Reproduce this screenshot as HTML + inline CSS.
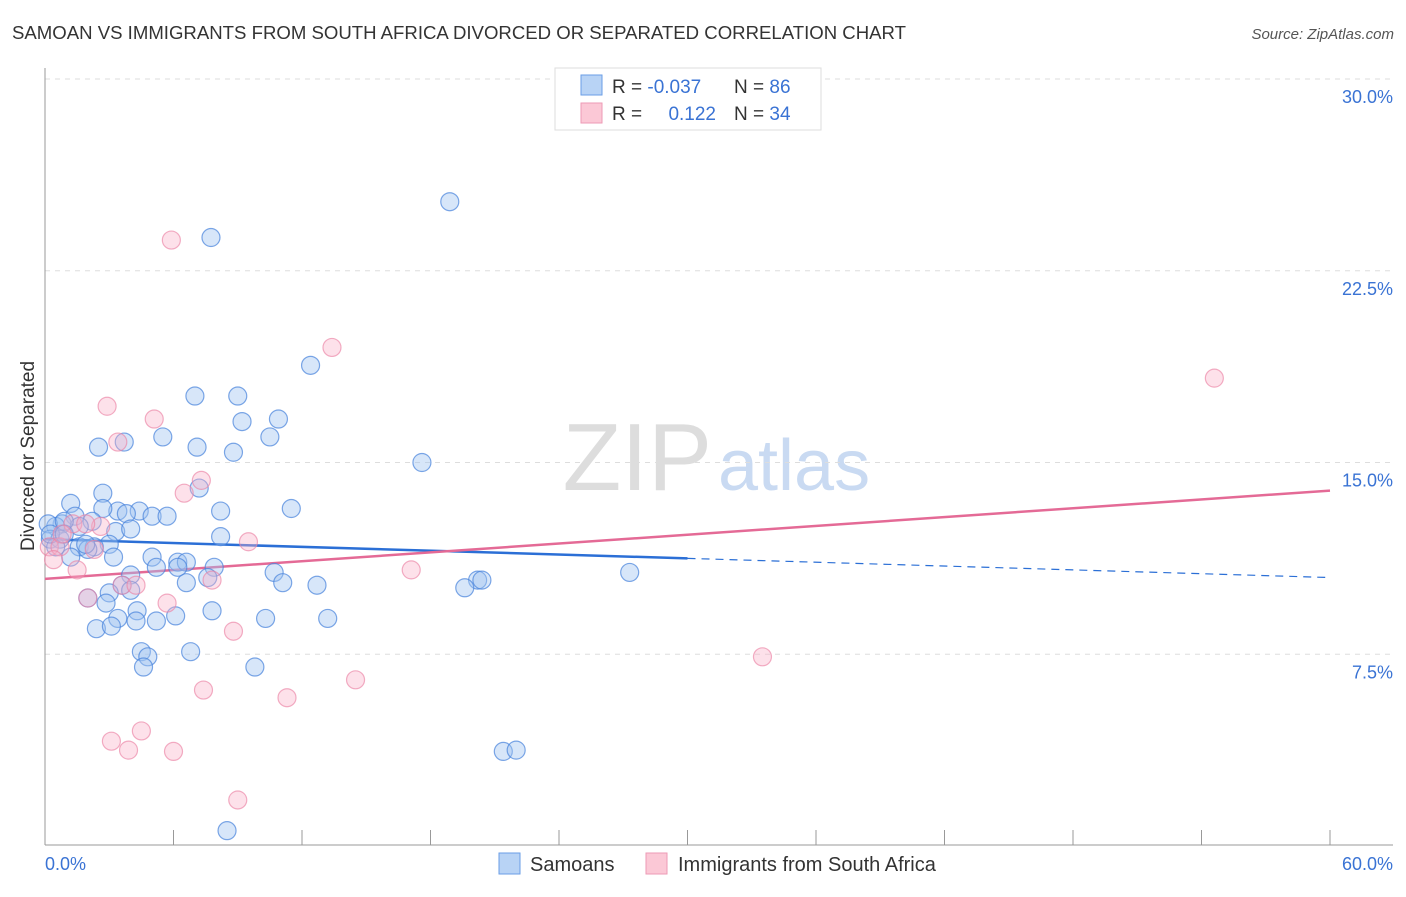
<!DOCTYPE html>
<html><head><meta charset="utf-8"><style>
body{margin:0;background:#fff;font-family:"Liberation Sans",sans-serif;}
svg text{font-family:"Liberation Sans",sans-serif;}
</style></head><body>
<svg width="1406" height="892" xmlns="http://www.w3.org/2000/svg">
<text x="12" y="39" font-size="18" fill="#333" textLength="894" lengthAdjust="spacingAndGlyphs">SAMOAN VS IMMIGRANTS FROM SOUTH AFRICA DIVORCED OR SEPARATED CORRELATION CHART</text>
<text x="1394" y="39" font-size="15" fill="#555" font-style="italic" text-anchor="end">Source: ZipAtlas.com</text>
<text x="712" y="490" font-size="96" fill="#ddd" font-family="Liberation Serif" text-anchor="end">ZIP</text>
<text x="718" y="490" font-size="72" fill="#c9daf2">atlas</text>
<g id="grid"></g>
<g id="axes"></g>
<text transform="translate(34,456) rotate(-90)" font-size="19" fill="#333" text-anchor="middle">Divorced or Separated</text>
<g id="trend"></g>
<g id="pts"></g>
<g>
<rect x="555" y="68" width="266" height="62" fill="#fff" stroke="#ddd"/>
<rect x="581" y="75" width="21" height="20" fill="#b8d3f5" stroke="#6a9ee6"/>
<rect x="581" y="103" width="21" height="20" fill="#fbc8d6" stroke="#ee9ab5"/>
<text x="612" y="93" font-size="19" fill="#333">R = <tspan fill="#3a73d4">-0.037</tspan></text>
<text x="734" y="93" font-size="19" fill="#333">N = <tspan fill="#3a73d4">86</tspan></text>
<text x="612" y="120" font-size="19" fill="#333">R = </text>
<text x="716" y="120" font-size="19" fill="#3a73d4" text-anchor="end">0.122</text>
<text x="734" y="120" font-size="19" fill="#333">N = <tspan fill="#3a73d4">34</tspan></text>
</g>
<g>
<rect x="499" y="853" width="21" height="21" fill="#b8d3f5" stroke="#6a9ee6"/>
<text x="530" y="871" font-size="20" fill="#333">Samoans</text>
<rect x="646" y="853" width="21" height="21" fill="#fbc8d6" stroke="#ee9ab5"/>
<text x="678" y="871" font-size="20" fill="#333">Immigrants from South Africa</text>
</g>
</svg>
<script>
const blueX=[18.9,7.75,12.4,7.0,9.0,9.2,10.9,3.7,2.5,5.5,7.1,8.8,10.5,17.6,7.2,2.7,1.2,8.2,11.5,3.4,4.4,2.7,1.4,3.8,5.0,5.7,2.2,0.8,0.5,0.15,1.6,3.3,4.0,8.2,0.25,0.7,3.0,0.5,1.6,2.3,3.2,5.0,6.2,6.6,1.2,2.0,5.2,6.2,7.9,4.0,10.7,7.6,11.1,12.7,6.6,3.6,4.0,20.2,20.4,19.6,27.3,3.0,2.0,2.85,4.3,7.8,6.1,3.4,4.25,5.2,10.3,13.2,2.4,3.1,4.5,4.8,6.8,4.6,9.8,21.4,22.0,8.5,0.9,0.25,0.9,1.9];
const blueY=[25.2,23.8,18.8,17.6,17.6,16.6,16.7,15.8,15.6,16.0,15.6,15.4,16.0,15.0,14.0,13.8,13.4,13.1,13.2,13.1,13.1,13.2,12.9,13.0,12.9,12.9,12.7,12.6,12.5,12.6,12.5,12.3,12.4,12.1,12.0,12.0,11.8,11.7,11.7,11.7,11.3,11.3,11.1,11.1,11.3,11.6,10.9,10.9,10.9,10.6,10.7,10.5,10.3,10.2,10.3,10.2,10.0,10.4,10.4,10.1,10.7,9.9,9.7,9.5,9.2,9.2,9.0,8.9,8.8,8.8,8.9,8.9,8.5,8.6,7.6,7.4,7.6,7.0,7.0,3.7,3.75,0.6,12.7,12.2,12.2,11.8];
const pinkX=[5.9,13.4,54.6,2.9,5.1,3.4,6.5,7.3,2.6,1.3,0.2,0.7,0.4,2.3,9.5,1.5,3.6,4.25,7.8,17.1,2.0,5.7,8.8,33.5,14.5,7.4,11.3,4.5,3.1,3.9,6.0,9.0,0.8,1.9];
const pinkY=[23.7,19.5,18.3,17.2,16.7,15.8,13.8,14.3,12.5,12.6,11.7,11.7,11.2,11.6,11.9,10.8,10.2,10.2,10.4,10.8,9.7,9.5,8.4,7.4,6.5,6.1,5.8,4.5,4.1,3.75,3.7,1.8,12.2,12.6];
const yTicks=[7.5,15.0,22.5,30.0];
const xTicks=[0,6,12,18,24,30,36,42,48,54,60];
const blueTrend=[12.0,10.5];
const blueSolidEnd=30;
const pinkTrend=[10.45,13.9];
const NS="http://www.w3.org/2000/svg";
const X=v=>45+v/60*1285, Y=v=>846-v/30*767;
function mk(t,a,p){const e=document.createElementNS(NS,t);for(const k in a)e.setAttribute(k,a[k]);p.appendChild(e);return e;}
const grid=document.getElementById('grid'),axes=document.getElementById('axes'),tr=document.getElementById('trend'),pts=document.getElementById('pts');
yTicks.forEach(v=>{const l=mk('line',{x1:45,x2:1393,y1:Y(v),y2:Y(v),stroke:'#ddd','stroke-dasharray':'5,5'},grid);


const t=mk('text',{x:1393,y:Y(v)+24,'font-size':18,fill:'#3a73d4','text-anchor':'end'},grid);t.textContent=v.toFixed(1)+'%';

});
let a=mk('line',{x1:45,x2:45,y1:68,y2:845,stroke:'#999'},axes);


a=mk('line',{x1:45,x2:1393,y1:845,y2:845,stroke:'#999'},axes);


xTicks.forEach(v=>{const l=mk('line',{x1:X(v),x2:X(v),y1:830,y2:845,stroke:'#999'},axes);

});
[[0,'0.0%','start',45],[60,'60.0%','end',1393]].forEach(d=>{const t=mk('text',{x:d[3],y:870,'font-size':18,fill:'#3a73d4','text-anchor':d[2]},axes);t.textContent=d[1];

});
function drawPts(xs,ys,fill,stroke,name){xs.forEach((x,i)=>{const c=mk('circle',{cx:X(x),cy:Y(ys[i]),r:9,fill:fill,stroke:stroke,'stroke-width':1.2},pts);

});}
drawPts(blueX,blueY,'rgba(160,195,240,0.42)','rgba(70,130,220,0.7)','samoan-point');
drawPts(pinkX,pinkY,'rgba(250,175,200,0.38)','rgba(235,130,165,0.65)','south-africa-point');
const by=x=>blueTrend[0]+(blueTrend[1]-blueTrend[0])*x/60;
let l=mk('line',{x1:X(0),y1:Y(by(0)),x2:X(blueSolidEnd),y2:Y(by(blueSolidEnd)),stroke:'#2b6fd6','stroke-width':2.5},tr);


l=mk('line',{x1:X(blueSolidEnd),y1:Y(by(blueSolidEnd)),x2:X(60),y2:Y(by(60)),stroke:'#2b6fd6','stroke-width':1.2,'stroke-dasharray':'8,6'},tr);


l=mk('line',{x1:X(0),y1:Y(pinkTrend[0]),x2:X(60),y2:Y(pinkTrend[1]),stroke:'#e46a96','stroke-width':2.5},tr);


</script>
</body></html>
